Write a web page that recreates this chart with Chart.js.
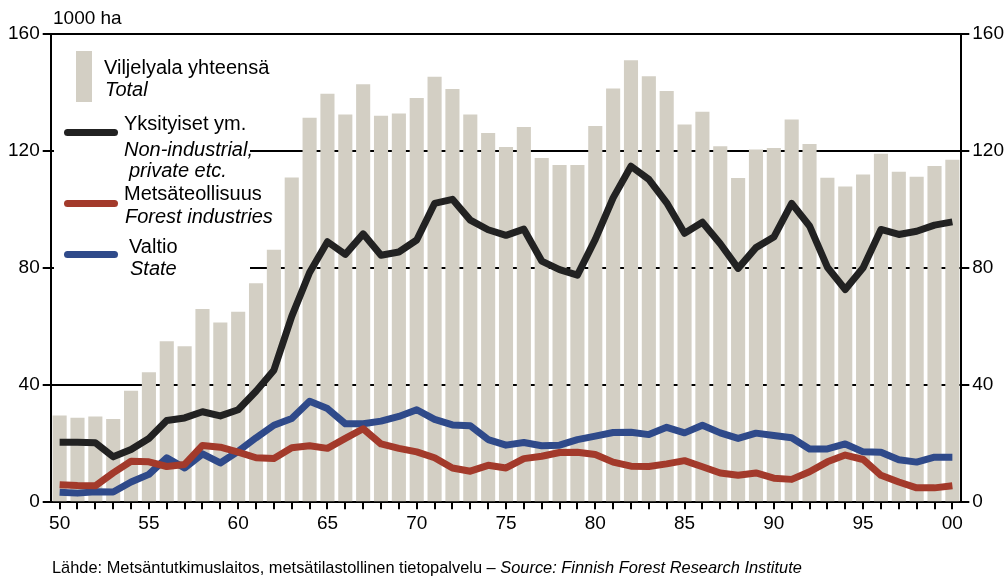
<!DOCTYPE html>
<html>
<head>
<meta charset="utf-8">
<script src="https://cdn.jsdelivr.net/npm/chart.js@4"></script>
<style>
  body { margin: 0; background: #fff; font-family: "Liberation Sans", Arial, sans-serif; color: #000; }
  #wrap { position: relative; width: 1007px; height: 579px; overflow: hidden; }
  #box { position: absolute; left: 0; top: 0; width: 1007px; height: 579px; }
  .t { position: absolute; white-space: nowrap; line-height: 22px; font-size: 20px; }
  .i { font-style: italic; }
  #legend { position: absolute; left: 54px; top: 36px; width: 196px; height: 244px; background: #fff; }
  .sw { position: absolute; }
</style>
</head>
<body>
<div id="wrap">
  <div id="box"><canvas id="chart"></canvas></div>
  <div class="t" style="left:53px; top:7px; font-size:19px;">1000 ha</div>
  <div id="legend"></div>
  <div class="t" style="left:104px; top:56px;">Viljelyala yhteensä</div>
  <div class="t i" style="left:105px; top:78px;">Total</div>
  <div class="t" style="left:124px; top:112px;">Yksityiset ym.</div>
  <div class="t i" style="left:124px; top:138px;">Non-industrial,</div>
  <div class="t i" style="left:129px; top:159px;">private etc.</div>
  <div class="t" style="left:124px; top:182px;">Metsäteollisuus</div>
  <div class="t i" style="left:125px; top:205px;">Forest industries</div>
  <div class="t" style="left:129px; top:235px;">Valtio</div>
  <div class="t i" style="left:130px; top:257px;">State</div>
  <div class="sw" style="left:76px; top:51px; width:16px; height:51px; background:#d3cfc4;"></div>
  <div class="sw" style="left:64px; top:129px; width:54px; height:7px; border-radius:4px; background:#222;"></div>
  <div class="sw" style="left:64px; top:200px; width:54px; height:7px; border-radius:4px; background:#a33a2b;"></div>
  <div class="sw" style="left:64px; top:251px; width:54px; height:7px; border-radius:4px; background:#2f4a8a;"></div>
  <div class="t" style="left:52px; top:556px; font-size:16.4px;">Lähde: Metsäntutkimuslaitos, metsätilastollinen tietopalvelu – <span class="i">Source: Finnish Forest Research Institute</span></div>
</div>
<script>
const years = [1950, 1951, 1952, 1953, 1954, 1955, 1956, 1957, 1958, 1959,
               1960, 1961, 1962, 1963, 1964, 1965, 1966, 1967, 1968, 1969,
               1970, 1971, 1972, 1973, 1974, 1975, 1976, 1977, 1978, 1979,
               1980, 1981, 1982, 1983, 1984, 1985, 1986, 1987, 1988, 1989,
               1990, 1991, 1992, 1993, 1994, 1995, 1996, 1997, 1998, 1999, 2000];

const xTickLabels = ['50', '55', '60', '65', '70', '75', '80', '85', '90', '95', '00'];

// Viljelyala yhteensä / Total
const total = [29.6, 28.9, 29.3, 28.4, 38.1, 44.4, 55.0, 53.3, 66.0, 61.4,
               65.1, 74.8, 86.3, 111.0, 131.4, 139.6, 132.5, 142.8, 132.1, 132.8,
               138.1, 145.4, 141.2, 132.5, 126.2, 121.4, 128.2, 117.6, 115.2, 115.2,
               128.6, 141.4, 151.0, 145.6, 140.5, 129.1, 133.4, 121.6, 110.8, 120.5,
               121.0, 130.8, 122.4, 110.9, 107.9, 112.0, 119.1, 112.9, 111.2, 114.9, 117.0];

// Yksityiset ym. / Non-industrial, private etc.
const privateOwners = [20.5, 20.5, 20.3, 15.5, 18.0, 21.8, 27.9, 28.8, 30.9, 29.5,
                       31.6, 37.9, 45.1, 63.5, 78.5, 89.0, 84.7, 91.7, 84.4, 85.5,
                       89.6, 102.1, 103.5, 96.4, 93.1, 91.2, 93.3, 82.4, 79.5, 77.6,
                       89.8, 104.0, 114.8, 110.3, 102.3, 91.9, 95.7, 88.3, 79.9, 87.0,
                       90.6, 102.1, 94.4, 80.3, 72.7, 80.1, 93.2, 91.5, 92.6, 94.7, 95.8];

// Metsäteollisuus / Forest industries
const industries = [6.0, 5.7, 5.6, 10.0, 14.0, 13.8, 12.2, 12.9, 19.4, 18.8,
                    17.1, 15.2, 14.9, 18.6, 19.3, 18.4, 21.8, 25.1, 19.9, 18.4,
                    17.2, 15.2, 11.7, 10.6, 12.6, 11.7, 14.9, 15.7, 17.0, 17.1,
                    16.3, 13.7, 12.3, 12.2, 13.1, 14.2, 12.1, 10.0, 9.2, 10.0,
                    8.2, 7.8, 10.4, 13.8, 16.1, 14.6, 9.2, 6.9, 4.9, 4.9, 5.6];

// Valtio / State
const state = [3.4, 3.1, 3.6, 3.5, 6.9, 9.5, 15.2, 11.7, 16.5, 13.4,
               17.4, 22.0, 26.3, 28.6, 34.5, 32.0, 26.8, 26.8, 27.7, 29.3,
               31.6, 28.3, 26.4, 26.1, 21.4, 19.5, 20.4, 19.3, 19.5, 21.4,
               22.6, 23.8, 23.9, 23.1, 25.6, 23.7, 26.3, 23.7, 21.8, 23.6,
               22.8, 22.0, 18.2, 18.2, 19.9, 17.2, 17.1, 14.5, 13.7, 15.4, 15.4];

const yTicks = [0, 40, 80, 120, 160];

const FONT = 'Liberation Sans';

const lineSet = (label, data, color, order) => ({
    type: 'line',
    label: label,
    data: data,
    borderColor: color,
    backgroundColor: color,
    borderWidth: 7,
    pointRadius: 0,
    tension: 0,
    borderJoinStyle: 'round',
    order: order
});

const ctx = document.querySelector('#chart').getContext('2d');

new Chart(ctx, {
    type: 'bar',
    data: {
        labels: years,
        datasets: [
            lineSet('Yksityiset ym.', privateOwners, '#222222', 1),
            lineSet('Metsäteollisuus', industries, '#a33a2b', 2),
            lineSet('Valtio', state, '#2f4a8a', 3),
            {
                type: 'bar',
                label: 'Viljelyala yhteensä',
                data: total,
                backgroundColor: '#d3cfc4',
                barPercentage: 0.79,
                categoryPercentage: 1.0,
                order: 10
            }
        ]
    },
    options: {
        responsive: true,
        maintainAspectRatio: false,
        animation: false,
        devicePixelRatio: 1,
        layout: { padding: { left: 5, right: 0, top: 34, bottom: 41 } },
        plugins: {
            legend: { display: false },
            tooltip: { enabled: false }
        },
        scales: {
            x: {
                offset: true,
                border: { display: true, color: '#000', width: 2 },
                grid: { drawOnChartArea: false, drawTicks: true, tickLength: 7, offset: false, color: '#000', lineWidth: 2 },
                ticks: {
                    autoSkip: false,
                    maxRotation: 0,
                    padding: 3,
                    color: '#000',
                    font: { family: FONT, size: 19 },
                    callback: function (value, index) {
                        return index % 5 === 0 ? xTickLabels[index / 5] : '';
                    }
                }
            },
            y: {
                position: 'left',
                min: 0,
                max: 160,
                afterBuildTicks: axis => { axis.ticks = yTicks.map(v => ({ value: v })); },
                border: { display: true, color: '#000', width: 2 },
                grid: { color: '#000', lineWidth: 2, drawTicks: true, tickLength: 8 },
                ticks: { color: '#000', padding: 3, font: { family: FONT, size: 19 } }
            },
            y2: {
                position: 'right',
                min: 0,
                max: 160,
                afterBuildTicks: axis => { axis.ticks = yTicks.map(v => ({ value: v })); },
                border: { display: true, color: '#000', width: 2 },
                grid: { drawOnChartArea: false, color: '#000', lineWidth: 2, drawTicks: true, tickLength: 8 },
                ticks: { color: '#000', padding: 3, font: { family: FONT, size: 19 } }
            }
        }
    }
});
</script>
</body>
</html>
